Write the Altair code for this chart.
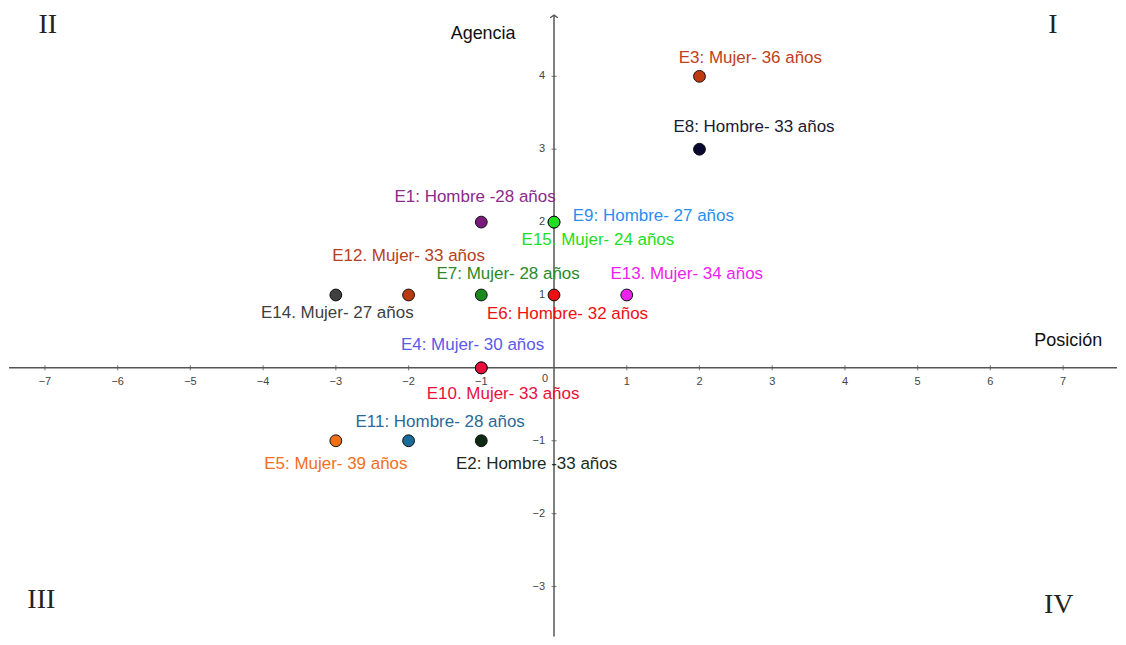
import altair as alt
import pandas as pd

# ---- data ----
ids = ["E1", "E2", "E3", "E4", "E5", "E6", "E7", "E8", "E9", "E10", "E11", "E12", "E13", "E14", "E15"]
pos_x = [-1, -1, 2, -1, -3, 0, -1, 2, 0, -1, -2, -2, 1, -3, 0]
agency_y = [2, -1, 4, 0, -1, 1, 1, 3, 2, 0, -1, 1, 1, 1, 2]
labels = [
    "E1: Hombre -28 años", "E2: Hombre -33 años", "E3: Mujer- 36 años", "E4: Mujer- 30 años",
    "E5: Mujer- 39 años", "E6: Hombre- 32 años", "E7: Mujer- 28 años", "E8: Hombre- 33 años",
    "E9: Hombre- 27 años", "E10. Mujer- 33 años", "E11: Hombre- 28 años", "E12. Mujer- 33 años",
    "E13. Mujer- 34 años", "E14. Mujer- 27 años", "E15. Mujer- 24 años",
]
# label anchor positions (data units)
label_x = [-1.085, -0.24, 2.70, -1.12, -3.00, 0.185, -0.631, 2.75, 1.366, -0.70, -1.565, -2.00, 1.825, -2.98, 0.604]
label_y = [2.34, -1.315, 4.25, 0.315, -1.315, 0.74, 1.29, 3.30, 2.08, -0.355, -0.74, 1.53, 1.29, 0.75, 1.75]

point_colors = ["#7a1a7a", "#0d2a12", "#c03a10", "#5050ee", "#f07018", "#ee1010", "#1a8a1a", "#080830",
                "#1e90ff", "#e8103a", "#1a6a9a", "#b83a10", "#ee22ee", "#404040", "#22dd22"]
label_colors = ["#8b2a8b", "#1a2a1a", "#c04020", "#5a5ae8", "#f07020", "#ee1010", "#2a8a2a", "#1a1a33",
                "#2a8ef0", "#e8103a", "#2a6a9a", "#b84020", "#ee22ee", "#404040", "#22dd22"]

x_ticks = [-7, -6, -5, -4, -3, -2, -1, 1, 2, 3, 4, 5, 6, 7]
y_ticks = [-3, -2, -1, 1, 2, 3, 4]

quadrants = ["I", "II", "III", "IV"]
quad_x = [6.86, -6.96, -7.05, 6.94]
quad_y = [4.71, 4.71, -3.19, -3.25]

axis_names = ["Agencia", "Posición"]
axis_name_x = [-0.975, 7.07]
axis_name_y = [4.575, 0.37]

x_domain = [-7.494, 7.741]
y_domain = [-3.685, 4.93]
y_axis_top = 4.84

FONT = "Liberation Sans"
AXIS_COLOR = "#555555"

df = pd.DataFrame({
    "id": ids, "x": pos_x, "y": agency_y, "label": labels,
    "lx": label_x, "ly": label_y, "pc": point_colors, "lc": label_colors,
    "order": list(range(len(ids))),
})
df_xt = pd.DataFrame({"v": x_ticks, "t": [str(v).replace("-", "\u2212") for v in x_ticks], "z": 0})
df_yt = pd.DataFrame({"v": y_ticks, "t": [str(v).replace("-", "\u2212") for v in y_ticks], "z": 0})
df_q = pd.DataFrame({"q": quadrants, "x": quad_x, "y": quad_y})
df_names = pd.DataFrame({"t": axis_names, "x": axis_name_x, "y": axis_name_y})
df_xline = pd.DataFrame({"a": [x_domain[0]], "b": [x_domain[1]], "z": [0]})
df_yline = pd.DataFrame({"a": [y_domain[0]], "b": [y_axis_top], "z": [0]})
df_zero = pd.DataFrame({"t": ["0"], "z": [0]})

xs = alt.Scale(domain=x_domain, nice=False, zero=False)
ys = alt.Scale(domain=y_domain, nice=False, zero=False)


def X(f):
    return alt.X(f, type="quantitative", scale=xs, axis=None)


def Y(f):
    return alt.Y(f, type="quantitative", scale=ys, axis=None)


x_axis_line = alt.Chart(df_xline).mark_rule(color=AXIS_COLOR, strokeWidth=1.5).encode(
    x=X("a"), x2="b", y=Y("z")
)
y_axis_line = alt.Chart(df_yline).mark_rule(color=AXIS_COLOR, strokeWidth=1.5).encode(
    y=Y("a"), y2="b", x=X("z")
)
arrow = alt.Chart(df_yline).mark_point(
    shape="M-1,0.7L0,0L1,0.7", filled=False, color=AXIS_COLOR, strokeWidth=1.3, size=60, opacity=1
).encode(x=X("z"), y=Y("b"))

x_tick_marks = alt.Chart(df_xt).mark_tick(orient="vertical", color=AXIS_COLOR, size=5, thickness=1.2).encode(
    x=X("v"), y=Y("z")
)
y_tick_marks = alt.Chart(df_yt).mark_tick(orient="horizontal", color=AXIS_COLOR, size=5, thickness=1.2).encode(
    y=Y("v"), x=X("z")
)
x_tick_labels = alt.Chart(df_xt).mark_text(font=FONT, fontSize=11, color="#444444", dy=14).encode(
    x=X("v"), y=Y("z"), text="t:N"
)
y_tick_labels = alt.Chart(df_yt).mark_text(font=FONT, fontSize=11, color="#444444", dx=-9, align="right").encode(
    y=Y("v"), x=X("z"), text="t:N"
)
zero_label = alt.Chart(df_zero).mark_text(font=FONT, fontSize=11, color="#444444", dx=-9, dy=11).encode(
    x=X("z"), y=Y("z"), text="t:N"
)

axis_titles = alt.Chart(df_names).mark_text(font=FONT, fontSize=18, color="#111111").encode(
    x=X("x"), y=Y("y"), text="t:N"
)

quad_text = alt.Chart(df_q).mark_text(font="Liberation Serif", fontSize=28, color="#222222").encode(
    x=X("x"), y=Y("y"), text="q:N"
)

base = alt.Chart(df)
points = base.mark_circle(size=140, opacity=1, stroke="#111111", strokeWidth=1).encode(
    x=X("x"), y=Y("y"), color=alt.Color("pc:N", scale=None), order="order:Q"
)
point_labels = base.mark_text(font=FONT, fontSize=17).encode(
    x=X("lx"), y=Y("ly"), text="label:N", color=alt.Color("lc:N", scale=None)
)

chart = alt.layer(
    x_axis_line, y_axis_line, arrow, x_tick_marks, y_tick_marks, x_tick_labels, y_tick_labels,
    zero_label, axis_titles, quad_text, point_labels, points
).properties(
    width=1110, height=629, padding=0, background="white"
).configure_view(stroke=None)

chart.save("out.html", embed_options={"renderer": "svg", "actions": False})
